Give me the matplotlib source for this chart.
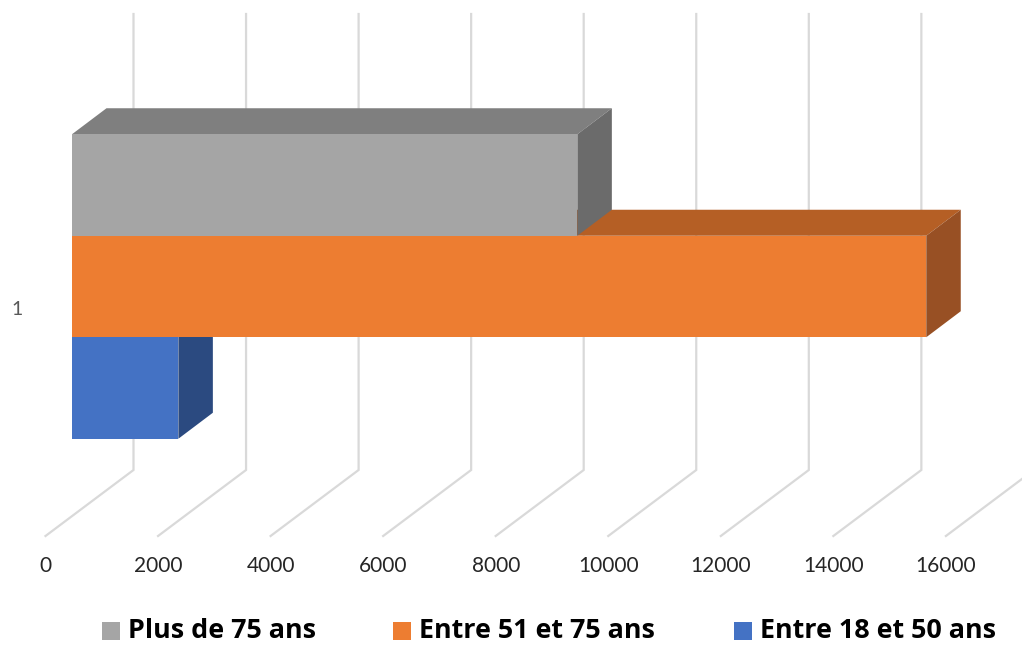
import numpy as np
import matplotlib as mpl
mpl.use("Agg")
import matplotlib.pyplot as plt
from matplotlib.patches import Polygon

labels = ['Plus de 75 ans', 'Entre 51 et 75 ans', 'Entre 18 et 50 ans']
values = [8980, 15180, 1890]
front_colors = ['#a5a5a5', '#ed7d31', '#4472c4']
top_colors = ['#7f7f7f', '#b55f25', '#33568f']
side_colors = ['#6b6b6b', '#985024', '#2b4a80']
xticks = np.arange(0, 18000, 2000)
category = '1'

W, H = 1022, 645
px_per_unit = 112.55 / 2000   # horizontal pixels per value unit
row_h = 101.5                 # pixels per bar row
x0_px = 45.5                  # pixel of value 0 at the front of the floor
y0_px = 388.0                 # pixel of the centre of row 0 (blue)

# value axis in data units, rows on y
fig = plt.figure(figsize=(W / 100, H / 100), dpi=100)
ax = fig.add_axes([0, 0, 1, 1])
ax.set_xlim(-x0_px / px_per_unit, (W - x0_px) / px_per_unit)
ax.set_ylim((y0_px - H) / row_h, y0_px / row_h)
ax.axis('off')

# 3d offsets, converted in axis units
bar_start = 26.5 / px_per_unit
bar_dx = 34.5 / px_per_unit
bar_dy = 26.0 / row_h
floor_dx = 88.0 / px_per_unit
floor_dy = 66.0 / row_h
floor_y = (y0_px - 536.0) / row_h
wall_top = (y0_px - 14.0) / row_h

grid_c = '#d9d9d9'
for t in xticks:
    ax.plot([t, t + floor_dx, t + floor_dx], [floor_y, floor_y + floor_dy, wall_top],
            c=grid_c, lw=1.6, zorder=1, solid_joinstyle='miter')
    ax.text(t, (y0_px - 566.5) / row_h, str(t), family='Lato', fontsize=15,
            color='#262626', ha='center', va='center')

ax.text((17.5 - x0_px) / px_per_unit, (y0_px - 309.0) / row_h, category, family='Lato',
        fontsize=14, color='#595959', ha='center', va='center')

# back to front so the top of a lower bar stays under the upper one
rows = [2, 1, 0]
for i in np.argsort(rows):
    r = rows[i]
    v = values[i]
    left = bar_start
    right = bar_start + v
    bottom = r - 0.5
    top = r + 0.5
    ax.add_patch(Polygon([[left, top], [right, top], [right + bar_dx, top + bar_dy], [left + bar_dx, top + bar_dy]],
                         fc=top_colors[i], ec='none', zorder=2 + r))
    ax.add_patch(Polygon([[right, bottom], [right + bar_dx, bottom + bar_dy], [right + bar_dx, top + bar_dy], [right, top]],
                         fc=side_colors[i], ec='none', zorder=2 + r))
    ax.barh(r, v, height=1.0, left=left, color=front_colors[i], zorder=2.5 + r)

# legend drawn by hand to hold the spacing of the original
leg_sq = [102, 393, 734]
leg_txt = [128, 419, 760]
leg_y = (y0_px - 631.0) / row_h
leg_base = (y0_px - 638.0) / row_h
for i in range(3):
    xs = (leg_sq[i] - x0_px) / px_per_unit
    xe = (leg_sq[i] + 18 - x0_px) / px_per_unit
    ax.add_patch(Polygon([[xs, leg_y - 9 / row_h], [xe, leg_y - 9 / row_h], [xe, leg_y + 9 / row_h], [xs, leg_y + 9 / row_h]],
                         fc=front_colors[i], ec='none'))
    ax.text((leg_txt[i] - x0_px) / px_per_unit, leg_base, labels[i], family='Open Sans', fontweight='bold',
            fontsize=19.4, color='black', ha='left', va='baseline')

plt.savefig('out.png', dpi=100)
plt.close()
